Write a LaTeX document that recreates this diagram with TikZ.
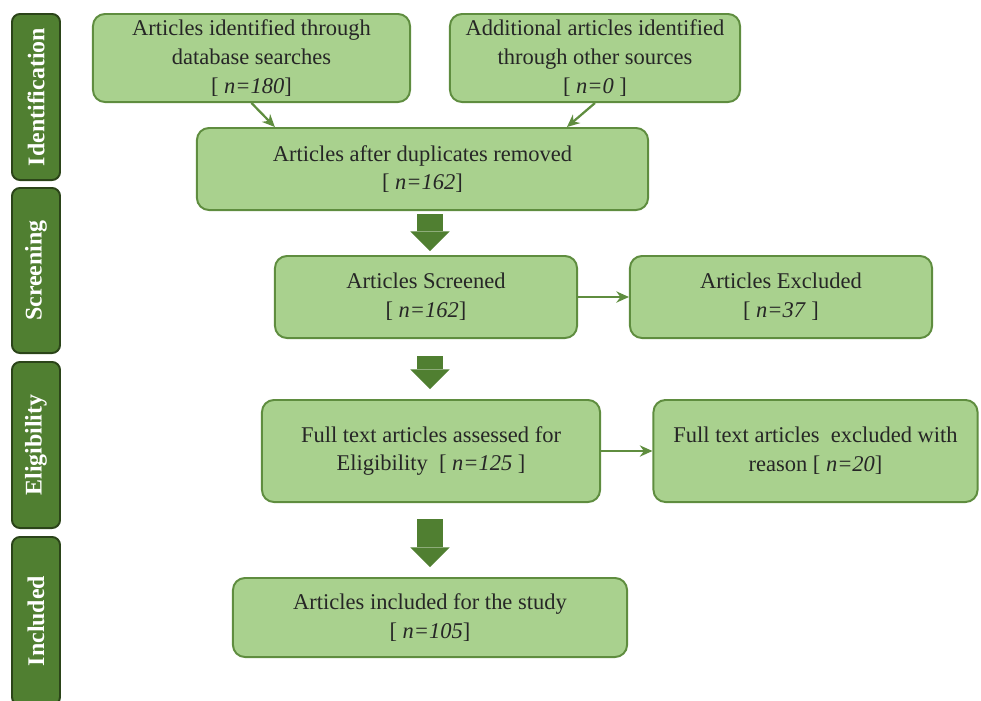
\documentclass[tikz,border=0pt]{standalone}
\usepackage{fontspec}
\setmainfont{Liberation Serif}
\usetikzlibrary{arrows.meta}
\definecolor{boxgreen}{HTML}{A9D18E}
\definecolor{edgegreen}{HTML}{5F8D3F}
\definecolor{bargreen}{HTML}{507F31}
\definecolor{bardark}{HTML}{2B4419}
\begin{document}
\begin{tikzpicture}[x=0.025cm,y=-0.025cm,
    bx/.style={draw=edgegreen,fill=boxgreen,line width=1.4pt,
      rounded corners=0.3cm,align=center,text=black!85,inner sep=2pt,
      font=\fontsize{16}{20.5}\selectfont},
    bar/.style={draw=bardark,fill=bargreen,line width=1.4pt,
      rounded corners=0.2cm,minimum height=1.2cm,rotate=90,text=white,
      font=\fontsize{17}{20}\selectfont\bfseries},
    arw/.style={draw=edgegreen,line width=1.6pt,-{Stealth[length=9pt,width=8pt]}},
    bigarw/.style={draw=bargreen,line width=18pt,
      -{Triangle[length=14pt,width=28pt,line width=0pt]}} ]
  \useasboundingbox (0,0) rectangle (981,700);
  % phase bars
  \node[bar,minimum width=4.15cm] (ident) at (36,97) {Identification};
  \node[bar,minimum width=4.125cm] (screen) at (36,270.5) {Screening};
  \node[bar,minimum width=4.15cm] (elig) at (36,445) {Eligibility};
  \node[bar,minimum width=4.2cm] (incl) at (36,621) {Included};
  % boxes
  \node[bx,minimum width=7.925cm,minimum height=2.2cm] (db) at (251.5,58)
    {Articles identified through\\database searches\\{}[ \textit{n=180}]};
  \node[bx,minimum width=7.25cm,minimum height=2.2cm] (other) at (595,58)
    {Additional articles identified\\through other sources\\{}[ \textit{n=0} ]};
  \node[bx,minimum width=11.275cm,minimum height=2.05cm] (dup) at (422.5,169)
    {Articles after duplicates removed\\{}[ \textit{n=162}]};
  \node[bx,minimum width=7.55cm,minimum height=2.05cm] (scr) at (426,297)
    {Articles Screened\\{}[ \textit{n=162}]};
  \node[bx,minimum width=7.55cm,minimum height=2.05cm] (exc) at (781,297)
    {Articles Excluded\\{}[ \textit{n=37} ]};
  \node[bx,minimum width=8.45cm,minimum height=2.55cm] (full) at (431,451)
    {Full text articles assessed for\\Eligibility~ [ \textit{n=125} ]};
  \node[bx,minimum width=8.1cm,minimum height=2.55cm] (fexc) at (815.5,451)
    {Full text articles~ excluded with\\reason [ \textit{n=20}]};
  \node[bx,minimum width=9.85cm,minimum height=1.975cm] (inc) at (430,617.5)
    {Articles included for the study\\{}[ \textit{n=105}]};
  % connectors
  \draw[arw] (db.south) -- ([xshift=-3.69cm]dup.north);
  \draw[arw] (other.south) -- ([xshift=3.61cm]dup.north);
  \draw[arw] (scr) -- (exc);
  \draw[arw] (full) -- (fexc);
  \draw[bigarw,shorten <=0.075cm,shorten >=0.1cm] (dup.south -| inc.north) -- (scr.north -| inc.north);
  \draw[bigarw,shorten <=0.425cm,shorten >=0.25cm] (scr.south -| inc.north) -- (full.north -| inc.north);
  \draw[bigarw,shorten <=0.4cm,shorten >=0.25cm] (full.south -| inc.north) -- (inc.north);
\end{tikzpicture}
\end{document}
